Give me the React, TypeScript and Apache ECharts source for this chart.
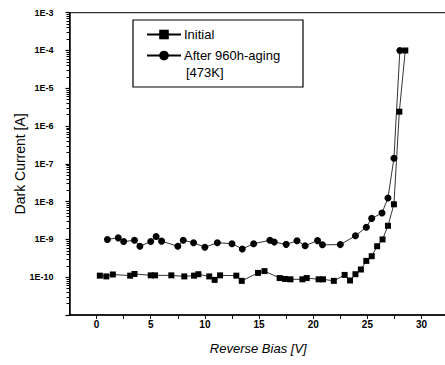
import React, { useEffect, useRef } from "react";
import * as echarts from "echarts";

const initialBias = [0.3, 0.9, 1.5, 3.1, 3.5, 5.0, 5.4, 6.9, 8.1, 9.0, 9.4, 10.4, 10.9, 11.4, 12.9, 13.4, 14.9, 15.5, 16.9, 17.4, 17.9, 19.0, 19.4, 20.5, 20.9, 21.9, 22.9, 23.4, 23.9, 24.4, 24.9, 25.4, 25.9, 26.4, 26.9, 27.45, 27.95, 28.5];
const initialCurrent = [1.1e-10, 1.05e-10, 1.18e-10, 1.1e-10, 1.22e-10, 1.12e-10, 1.12e-10, 1.12e-10, 1.05e-10, 1.1e-10, 1.2e-10, 1.05e-10, 0.85e-10, 1.12e-10, 1.1e-10, 0.8e-10, 1.3e-10, 1.45e-10, 0.95e-10, 0.9e-10, 0.88e-10, 0.88e-10, 0.95e-10, 0.88e-10, 0.88e-10, 0.8e-10, 1.15e-10, 0.82e-10, 1.2e-10, 1.6e-10, 2.7e-10, 3.6e-10, 6.6e-10, 1.0e-9, 2.3e-9, 8.5e-9, 2.4e-6, 1e-4];

const agedBias = [1.0, 2.0, 2.5, 3.5, 4.0, 5.0, 5.5, 6.0, 7.5, 8.0, 8.95, 10.0, 11.15, 12.5, 13.45, 14.5, 16.0, 16.4, 17.5, 18.5, 19.25, 20.4, 20.85, 22.5, 23.9, 24.9, 25.4, 26.35, 26.9, 27.45, 28.0];
const agedCurrent = [1.0e-9, 1.1e-9, 0.88e-9, 0.95e-9, 0.66e-9, 0.88e-9, 1.2e-9, 0.9e-9, 0.66e-9, 0.95e-9, 0.82e-9, 0.62e-9, 0.82e-9, 0.77e-9, 0.56e-9, 0.77e-9, 0.95e-9, 0.85e-9, 0.74e-9, 0.92e-9, 0.68e-9, 0.93e-9, 0.72e-9, 0.73e-9, 1.25e-9, 2.1e-9, 3.6e-9, 5.0e-9, 1.25e-8, 1.4e-7, 1e-4];

const xTickLabels = [0, 5, 10, 15, 20, 25, 30];
const xTicks = [0, 2.5, 5, 7.5, 10, 12.5, 15, 17.5, 20, 22.5, 25, 27.5, 30];
const yDecades = [-11, -10, -9, -8, -7, -6, -5, -4];
const yMinorMultipliers = [2, 3, 4, 5, 6, 7, 8, 9];

const FONT = "Liberation Sans, Arial, sans-serif";
const GRID_LEFT = 69.5;
const GRID_RIGHT = -2;
const WIDTH = 445;

export default function App() {
  const ref = useRef<HTMLDivElement>(null);
  useEffect(() => {
    if (!ref.current) return;
    const chart = echarts.init(ref.current, null, { renderer: "svg" });
    const pair = (xs: number[], ys: number[]) => xs.map((x, i) => [x, ys[i]]);
    const minorExponents: number[] = [];
    yDecades.forEach((e) => yMinorMultipliers.forEach((m) => minorExponents.push(e + Math.log10(m))));
    const plotWidth = WIDTH - GRID_RIGHT - GRID_LEFT;
    chart.setOption({
      animation: false,
      backgroundColor: "#fff",
      textStyle: { fontFamily: FONT, color: "#000" },
      grid: {
        left: GRID_LEFT,
        right: GRID_RIGHT,
        top: 12.7,
        bottom: 50,
        containLabel: false,
        outerBoundsMode: "none",
        show: true,
        borderColor: "#000",
        borderWidth: 1,
        backgroundColor: "transparent",
      },
      legend: {
        left: 133,
        top: 20,
        orient: "vertical",
        padding: [8, 10, 10, 13],
        itemWidth: 34,
        itemHeight: 12,
        itemGap: 8,
        textStyle: { fontFamily: FONT, fontSize: 13, color: "#000", padding: [0, 0, 0, -2] },
        data: ["Initial", "After 960h-aging"],
      },
      graphic: [
        {
          type: "rect",
          shape: { x: 133, y: 20, width: 170, height: 67 },
          style: { fill: "#fff", stroke: "#000", lineWidth: 1.2 },
          z: 3,
        },
        {
          type: "text",
          x: 186,
          y: 66,
          style: { text: "[473K]", font: `13px ${FONT}`, fill: "#000" },
          z: 100,
        },
      ],
      xAxis: {
        type: "value",
        min: -2.5,
        max: 32.35,
        name: "Reverse Bias [V]",
        nameLocation: "middle",
        nameGap: 27,
        nameMoveOverlap: false,
        nameTextStyle: { fontFamily: FONT, fontSize: 13, fontStyle: "italic", color: "#000" },
        axisLine: { onZero: false, lineStyle: { color: "#000", width: 1.5 } },
        axisTick: { show: true, customValues: xTicks, length: 4, lineStyle: { color: "#000", width: 1 } },
        axisLabel: {
          customValues: xTickLabels,
          fontFamily: FONT,
          fontSize: 10,
          fontWeight: "bold",
          color: "#000",
          margin: 4,
        },
        splitLine: { show: false },
      },
      yAxis: [
        {
          type: "log",
          logBase: 10,
          min: 1e-11,
          max: 1e-3,
          position: "left",
          name: "Dark Current [A]",
          nameLocation: "middle",
          nameGap: 43,
          nameMoveOverlap: false,
          nameTextStyle: { fontFamily: FONT, fontSize: 14, color: "#000" },
          axisLine: { onZero: false, lineStyle: { color: "#000", width: 1.5 } },
          axisTick: { show: true, length: 4, lineStyle: { color: "#000", width: 1.2 } },
          axisLabel: {
            fontFamily: FONT,
            fontSize: 9,
            fontWeight: "bold",
            color: "#000",
            margin: 16,
            formatter: (v: number) => {
              const e = Math.round(Math.log10(v));
              if (e <= -11) return "";
              return "1E" + e;
            },
          },
          splitLine: { show: false },
        },
        {
          // helper axis for logarithmic minor ticks, moved onto the left edge
          type: "value",
          min: -11,
          max: -3,
          position: "right",
          offset: -plotWidth,
          axisLine: { show: false, onZero: false },
          axisTick: {
            show: true,
            inside: true,
            customValues: minorExponents,
            length: 3,
            lineStyle: { color: "#000", width: 1 },
          },
          axisLabel: { show: false },
          splitLine: { show: false },
        },
      ],
      series: [
        {
          name: "Initial",
          type: "line",
          data: pair(initialBias, initialCurrent),
          symbol: "rect",
          symbolSize: 6,
          itemStyle: { color: "#000" },
          lineStyle: { color: "#000", width: 0.8 },
        },
        {
          name: "After 960h-aging",
          type: "line",
          data: pair(agedBias, agedCurrent),
          symbol: "circle",
          symbolSize: 7,
          itemStyle: { color: "#000" },
          lineStyle: { color: "#000", width: 0.8 },
        },
      ],
    });
    return () => chart.dispose();
  }, []);
  return (
    <div
      ref={ref}
      style={{ position: "absolute", left: 0, top: 0, width: WIDTH, height: 365, overflow: "hidden" }}
    />
  );
}
